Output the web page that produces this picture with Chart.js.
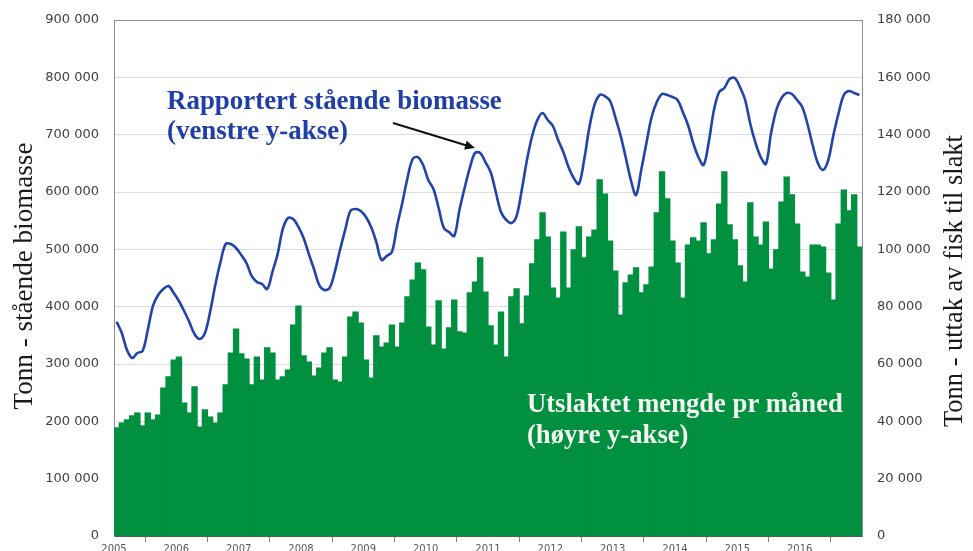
<!DOCTYPE html>
<html><head><meta charset="utf-8">
<script src="https://cdn.jsdelivr.net/npm/chart.js@4.4.1/dist/chart.umd.min.js"></script>
<style>html,body{margin:0;padding:0;overflow:hidden;background:#fff;width:973px;height:551px}canvas{display:block}</style>
</head><body>
<canvas id="c" width="973" height="560"></canvas>
<script>
// Year tick labels (one tick per January)
const years = [2005,2006,2007,2008,2009,2010,2011,2012,2013,2014,2015,2016];

// Monthly reported standing biomass, tonnes (left axis), Jan 2005 – Dec 2016
const biomass = [
 373800,354100,324400,310500,319200,322700,359300,401200,420300,430800,436000,423800,
 409900,392400,373300,352300,343600,354100,390700,437800,477900,509300,509300,502300,
 490100,476200,453500,443000,439500,430800,460500,491900,535500,554700,552900,539000,
 519800,491900,465700,437800,429100,432600,460500,498800,533700,566900,570400,566900,
 556400,539000,512800,481400,488400,495400,540700,580800,624400,657600,661000,647100,
 620900,605200,572100,537200,530200,523300,568600,607000,641900,668000,668000,652300,
 634900,600000,565100,551200,545900,558100,603500,655800,697700,725600,737800,725600,
 715100,690700,669800,643600,624400,614000,655800,711600,751800,769200,767400,758700,
 730800,699400,661000,620900,594800,638400,685500,730800,757000,770900,769200,765700,
 760500,739500,716900,685500,661000,647100,687200,743000,774400,781400,797100,798800,
 783100,760500,718600,685500,661000,648800,702900,743000,764000,772700,770900,760500,
 748300,718600,682000,650600,638400,655800,699400,737800,769200,776200,772700,769200
];

// Monthly slaughtered volume, tonnes (right axis)
const slaughter = [
 37700,39400,40500,41900,42900,38400,42900,40500,42200,51600,55500,61400,
 62400,46400,42900,52000,38000,44000,41500,39400,42900,52700,63800,72200,
 63500,61700,52700,62400,54400,65600,63800,54400,55500,57900,73600,80200,
 62800,60700,55800,58600,63800,65600,54400,53700,62400,76400,78100,74300,
 61400,55100,69800,65900,67300,73600,65900,74300,83400,89300,95200,92800,
 72900,66600,82000,65200,72600,82300,71200,70800,84800,88600,97000,85100,
 73300,66600,78100,62400,83400,86200,74000,83700,94900,103300,112700,104300,
 86500,83000,106000,86500,99800,107800,97000,104300,106700,124200,119300,102900,
 92400,77100,88300,91000,93500,84800,87600,93800,112700,127000,117600,102900,
 95200,83000,101500,104000,102900,109200,98400,103300,115800,127000,108500,103300,
 94200,88600,116200,104300,101500,109500,93100,99800,116500,125200,119000,108800,
 92100,90300,101500,101500,100800,91700,82300,108800,120700,113400,119000,100800
];

const leftTitle = 'Tonn - stående biomasse';
const rightTitle = 'Tonn - uttak av fisk til slakt';
const lineLabel = ['Rapportert stående biomasse', '(venstre y-akse)'];
const barLabel = ['Utslaktet mengde pr måned', '(høyre y-akse)'];

const fmt = v => String(v).replace(/\B(?=(\d{3})+(?!\d))/g, ' ');
const tickFont = {family: '"DejaVu Sans", "Liberation Sans", Arial, sans-serif', size: 13};

function fitSize(ctx, text, family, weight, width) {
  ctx.font = weight + ' 20px ' + family;
  return 20 * width / ctx.measureText(text).width;
}

const overlay = {
  id: 'overlay',
  afterDraw(chart) {
    const {ctx, chartArea: a, scales} = chart;
    ctx.save();
    // top frame line
    ctx.strokeStyle = '#8c8c8c'; ctx.lineWidth = 1;
    ctx.beginPath(); ctx.moveTo(a.left, a.top + 0.5); ctx.lineTo(a.right, a.top + 0.5); ctx.stroke();

    // axis titles (both read bottom-to-top)
    const serif = '"Liberation Serif", "DejaVu Serif", serif';
    ctx.fillStyle = '#1a1a1a';
    ctx.textAlign = 'center'; ctx.textBaseline = 'middle';
    let s = fitSize(ctx, leftTitle, serif, 'normal', 267);
    ctx.font = 'normal ' + s + 'px ' + serif;
    ctx.save(); ctx.translate(25, 276); ctx.rotate(-Math.PI / 2); ctx.fillText(leftTitle, 0, 0); ctx.restore();
    s = fitSize(ctx, rightTitle, serif, 'normal', 292);
    ctx.font = 'normal ' + s + 'px ' + serif;
    ctx.save(); ctx.translate(955, 281); ctx.rotate(-Math.PI / 2); ctx.fillText(rightTitle, 0, 0); ctx.restore();

    // series annotations
    ctx.textAlign = 'left'; ctx.textBaseline = 'middle';
    s = fitSize(ctx, lineLabel[0], serif, 'bold', 335);
    ctx.font = 'bold ' + s + 'px ' + serif;
    ctx.fillStyle = '#1f3fa6';
    ctx.fillText(lineLabel[0], 167, 102);
    ctx.fillText(lineLabel[1], 167, 132);

    s = fitSize(ctx, barLabel[0], serif, 'bold', 316);
    ctx.font = 'bold ' + s + 'px ' + serif;
    ctx.fillStyle = '#f4f4f0';
    ctx.fillText(barLabel[0], 527, 405);
    ctx.fillText(barLabel[1], 527, 436);

    // arrow pointing to the 2011 biomass peak
    const tx = scales.x.getPixelForValue(69.5), ty = scales.y.getPixelForValue(biomass[69]) - 5;
    const fx = 393, fy = 123;
    const ang = Math.atan2(ty - fy, tx - fx);
    ctx.strokeStyle = '#111'; ctx.fillStyle = '#111'; ctx.lineWidth = 2;
    ctx.beginPath(); ctx.moveTo(fx, fy); ctx.lineTo(tx - 7 * Math.cos(ang), ty - 7 * Math.sin(ang)); ctx.stroke();
    ctx.beginPath();
    ctx.moveTo(tx, ty);
    ctx.lineTo(tx - 10 * Math.cos(ang) + 4.5 * Math.sin(ang), ty - 10 * Math.sin(ang) - 4.5 * Math.cos(ang));
    ctx.lineTo(tx - 10 * Math.cos(ang) - 4.5 * Math.sin(ang), ty - 10 * Math.sin(ang) + 4.5 * Math.cos(ang));
    ctx.closePath(); ctx.fill();
    ctx.restore();
  }
};

new Chart(document.getElementById('c'), {
  type: 'bar',
  data: {
    datasets: [
      {
        type: 'line', label: lineLabel.join(' '), yAxisID: 'y', order: 0,
        data: biomass.map((v, i) => ({x: i + 0.5, y: v})),
        borderColor: '#2244aa', borderWidth: 2.6, pointRadius: 0, tension: 0.35, fill: false
      },
      {
        type: 'bar', label: barLabel.join(' '), yAxisID: 'y1', order: 1,
        data: slaughter.map((v, i) => ({x: i + 0.5, y: v})),
        backgroundColor: '#009040', borderWidth: 0, inflateAmount: 0.6,
        barPercentage: 1, categoryPercentage: 1
      }
    ]
  },
  options: {
    responsive: false, animation: false,
    layout: {padding: {top: 20, left: 0, right: 0, bottom: 0}},
    plugins: {legend: {display: false}, tooltip: {enabled: false}},
    scales: {
      x: {
        type: 'linear', min: 0, max: 144, offset: false,
        afterFit: s => { s.height = 24; s.paddingLeft = 0; s.paddingRight = 0; },
        afterBuildTicks: s => { s.ticks = years.map((y, k) => ({value: k * 12})).concat([{value: 144}]); },
        ticks: {autoSkip: false, maxRotation: 0, padding: 1, color: '#595959',
          font: {family: tickFont.family, size: 10},
          callback: v => (v < 144 ? String(years[v / 12]) : '')},
        grid: {drawOnChartArea: false, drawTicks: true, tickLength: 6, color: '#7f7f7f'},
        border: {display: true, color: '#595959', width: 1}
      },
      y: {
        position: 'left', min: 0, max: 900000,
        afterFit: s => { s.width = 114; s.paddingTop = 0; s.paddingBottom = 0; },
        ticks: {stepSize: 100000, padding: 15, color: '#404040', font: tickFont, callback: v => fmt(v)},
        grid: {color: '#dcdcdc', drawTicks: false, lineWidth: 1},
        border: {display: true, color: '#8c8c8c', width: 1}
      },
      y1: {
        position: 'right', min: 0, max: 180000,
        afterFit: s => { s.width = 111; s.paddingTop = 0; s.paddingBottom = 0; },
        ticks: {stepSize: 20000, padding: 15, color: '#404040', font: tickFont, callback: v => fmt(v)},
        grid: {drawOnChartArea: false, drawTicks: false},
        border: {display: true, color: '#8c8c8c', width: 1}
      }
    }
  },
  plugins: [overlay]
});
</script>
</body></html>
